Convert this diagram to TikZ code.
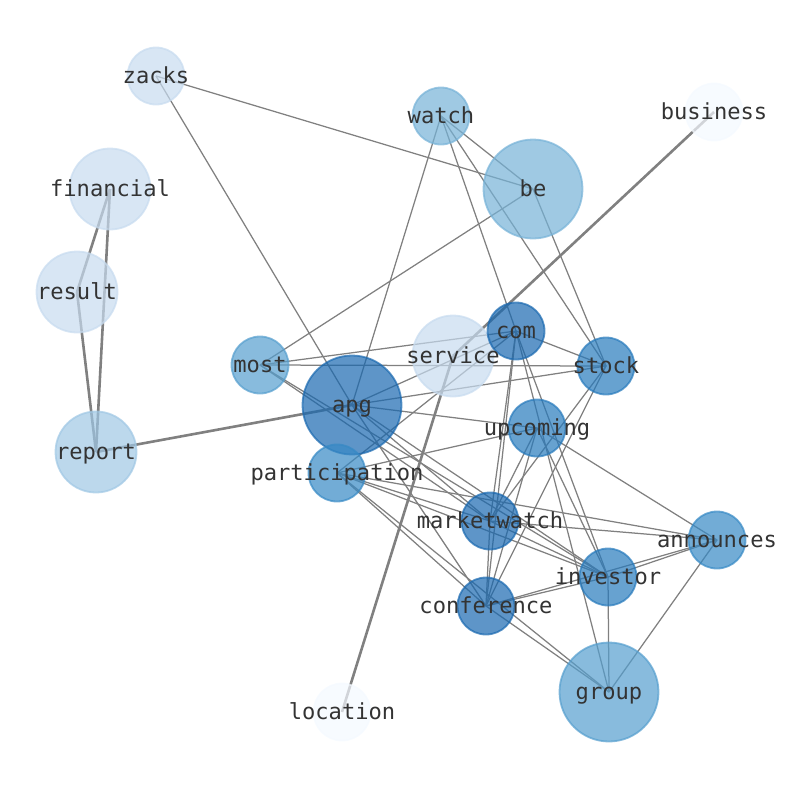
\documentclass[tikz,border=0pt]{standalone}
\usepackage{fontspec}
\newfontfamily\monofont{DejaVu Sans Mono}
\pgfdeclarelayer{edges}
\pgfsetlayers{edges,main}
\definecolor{cA}{RGB}{25,104,176}
\definecolor{cB}{RGB}{39,122,188}
\definecolor{cC}{RGB}{54,137,197}
\definecolor{cD}{RGB}{85,158,206}
\definecolor{cE}{RGB}{118,178,215}
\definecolor{cF}{RGB}{159,199,228}
\definecolor{cG}{RGB}{199,219,239}
\definecolor{cH}{RGB}{244,249,255}
\definecolor{edgec}{RGB}{128,128,128}
\definecolor{labelc}{RGB}{51,51,51}
\begin{document}
\begin{tikzpicture}[x=1pt,y=-1pt,
  nd/.style 2 args={circle,inner sep=0pt,minimum size=#2,fill=#1,draw=#1,fill opacity=0.7,draw opacity=0.7,line width=1.8pt},
  small/.style={nd={#1}{57pt}},
  mid/.style={nd={#1}{81pt}},
  big/.style={nd={#1}{99pt}},
  lbl/.style={font=\monofont\fontsize{22.1}{26}\selectfont,text=labelc,inner sep=0pt,text height=16.7pt,text depth=5.3pt,yshift=-2pt},
  thinedge/.style={draw=edgec,line width=1.25pt},
  thickedge/.style={draw=edgec,line width=2.6pt}]
\useasboundingbox (0,0) rectangle (794,790);
% vertices
\node[small=cG] (zacks) at (156,76) {};
\node[small=cE] (watch) at (441,116) {};
\node[small=cH] (business) at (714,112) {};
\node[big=cE] (be) at (533,189) {};
\node[mid=cG] (financial) at (110,189) {};
\node[mid=cG] (result) at (77,292) {};
\node[mid=cF] (report) at (96,452) {};
\node[small=cD] (most) at (260,365) {};
\node[big=cA] (apg) at (352,405) {};
\node[mid=cG] (service) at (453,356) {};
\node[small=cA] (com) at (516,331) {};
\node[small=cB] (stock) at (606,366) {};
\node[small=cB] (upcoming) at (537,428) {};
\node[small=cC] (participation) at (337,473) {};
\node[small=cA] (marketwatch) at (490,521) {};
\node[small=cC] (announces) at (717,540) {};
\node[small=cB] (investor) at (608,577) {};
\node[small=cA] (conference) at (486,606) {};
\node[big=cD] (group) at (609,692) {};
\node[small=cH] (location) at (342,712) {};
% labels
\foreach \n in {zacks,watch,business,be,financial,result,report,most,apg,service,com,stock,upcoming,participation,marketwatch,announces,investor,conference,group,location}
  \node[lbl] (\n-label) at (\n.center) {\n};
% edges
\begin{pgfonlayer}{edges}
\foreach \a/\b in {financial/result,financial/report,result/report,report/apg,business/service,location/service}
  \draw[thickedge] (\a.center) -- (\b.center);
\foreach \a/\b in {zacks/be,zacks/apg,watch/apg,watch/com,watch/stock,watch/be,be/most,be/stock,
  most/com,most/stock,most/marketwatch,most/investor,
  apg/com,apg/stock,apg/upcoming,apg/marketwatch,apg/investor,apg/conference,
  participation/com,participation/upcoming,participation/marketwatch,participation/investor,participation/announces,participation/conference,participation/group,
  com/stock,com/marketwatch,com/conference,com/investor,com/group,
  stock/marketwatch,stock/conference,
  upcoming/marketwatch,upcoming/conference,upcoming/investor,upcoming/announces,
  marketwatch/conference,marketwatch/investor,marketwatch/announces,
  conference/investor,conference/announces,conference/group,
  investor/announces,investor/group,announces/group}
  \draw[thinedge] (\a.center) -- (\b.center);
\end{pgfonlayer}
\end{tikzpicture}
\end{document}
